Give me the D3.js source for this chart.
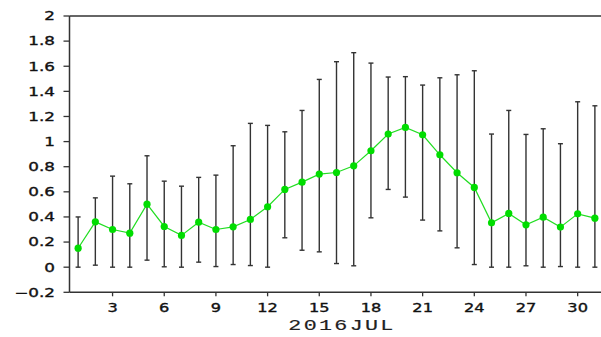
<!DOCTYPE html>
<html><head><meta charset="utf-8">
<script src="https://cdn.jsdelivr.net/npm/d3@7"></script>
<style>body{margin:0;background:#fff}svg{display:block}</style>
</head><body>
<script>
const days = d3.range(1, 32);
const meanVals = [0.151,0.361,0.300,0.271,0.502,0.324,0.253,0.358,0.300,0.321,0.380,0.481,0.619,0.677,0.741,0.754,0.807,0.927,1.060,1.113,1.054,0.895,0.752,0.635,0.353,0.428,0.337,0.398,0.319,0.425,0.390];
const lowVals = [0.000,0.016,0.000,0.000,0.056,0.003,0.000,0.040,0.005,0.021,0.013,0.000,0.234,0.135,0.122,0.029,0.011,0.393,0.619,0.558,0.375,0.289,0.154,0.021,0.000,0.000,0.011,0.000,0.005,0.000,0.000];
const highVals = [0.400,0.552,0.725,0.664,0.887,0.685,0.645,0.715,0.733,0.967,1.145,1.129,1.078,1.248,1.495,1.636,1.708,1.625,1.514,1.517,1.450,1.508,1.532,1.564,1.060,1.248,1.057,1.102,0.983,1.317,1.285];
const yTicks = [-0.2,0,0.2,0.4,0.6,0.8,1,1.2,1.4,1.6,1.8,2];
const yTickLabels = ["\u22120.2","0","0.2","0.4","0.6","0.8","1","1.2","1.4","1.6","1.8","2"];
const xTicks = [3,6,9,12,15,18,21,24,27,30];
const xTitle = "2016JUL";

const W = 601, H = 337;
const svg = d3.select("body").append("svg").attr("width", W).attr("height", H);
const x = d3.scaleLinear().domain([0.5, 31.5]).range([69.5, 603.5]);
const y = d3.scaleLinear().domain([-0.2, 2]).range([292.3, 16]);
const axisColor = "#333";

// frame
svg.append("line").attr("x1", x(0.5)).attr("x2", W).attr("y1", y(2)).attr("y2", y(2)).attr("stroke", axisColor).attr("stroke-width", 1.5);
svg.append("line").attr("x1", x(0.5)).attr("x2", W).attr("y1", y(-0.2)).attr("y2", y(-0.2)).attr("stroke", axisColor).attr("stroke-width", 1.5);
svg.append("line").attr("x1", x(0.5)).attr("x2", x(0.5)).attr("y1", y(2)).attr("y2", y(-0.2)).attr("stroke", axisColor).attr("stroke-width", 1.5);

// y ticks
yTicks.forEach((t, i) => {
  svg.append("line").attr("x1", x(0.5) - 6).attr("x2", x(0.5)).attr("y1", y(t)).attr("y2", y(t)).attr("stroke", axisColor).attr("stroke-width", 1.3);
  svg.append("text").attr("transform", `translate(55,${y(t)}) scale(1.4,1)`)
    .attr("text-anchor", "end").attr("dy", "0.36em")
    .attr("font-family", "DejaVu Sans").attr("font-size", 12).attr("fill", "#111")
    .attr("stroke", "#111").attr("stroke-width", 0.35)
    .text(yTickLabels[i]);
});
// x ticks
xTicks.forEach(t => {
  svg.append("line").attr("x1", x(t)).attr("x2", x(t)).attr("y1", y(-0.2)).attr("y2", y(-0.2) + 4).attr("stroke", axisColor).attr("stroke-width", 1.3);
  svg.append("text").attr("transform", `translate(${x(t)},311.7) scale(1.35,1)`)
    .attr("text-anchor", "middle")
    .attr("font-family", "DejaVu Sans").attr("font-size", 12).attr("fill", "#111")
    .attr("stroke", "#111").attr("stroke-width", 0.35)
    .text(t);
});
svg.append("text").attr("transform", `translate(342,330) scale(1.55,1)`)
  .attr("text-anchor", "middle").attr("letter-spacing", "1.5px")
  .attr("font-family", "Liberation Mono").attr("font-size", 14).attr("fill", "#222")
  .attr("stroke", "#222").attr("stroke-width", 0.15)
  .text(xTitle);

// error bars
const eb = svg.append("g").attr("stroke", "#333").attr("stroke-width", 1.4);
days.forEach((d, i) => {
  eb.append("line").attr("x1", x(d)).attr("x2", x(d)).attr("y1", y(lowVals[i])).attr("y2", y(highVals[i]));
  eb.append("line").attr("x1", x(d) - 2.5).attr("x2", x(d) + 2.5).attr("y1", y(lowVals[i])).attr("y2", y(lowVals[i]));
  eb.append("line").attr("x1", x(d) - 2.5).attr("x2", x(d) + 2.5).attr("y1", y(highVals[i])).attr("y2", y(highVals[i]));
});

// mean line
const line = d3.line().x((d, i) => x(days[i])).y(d => y(d));
svg.append("path").datum(meanVals).attr("d", line).attr("fill", "none").attr("stroke", "#22dd22").attr("stroke-width", 1.2);
svg.append("g").selectAll("circle").data(meanVals).join("circle")
  .attr("cx", (d, i) => x(days[i])).attr("cy", d => y(d)).attr("r", 3.6).attr("fill", "#00dd00");
</script>
</body></html>
